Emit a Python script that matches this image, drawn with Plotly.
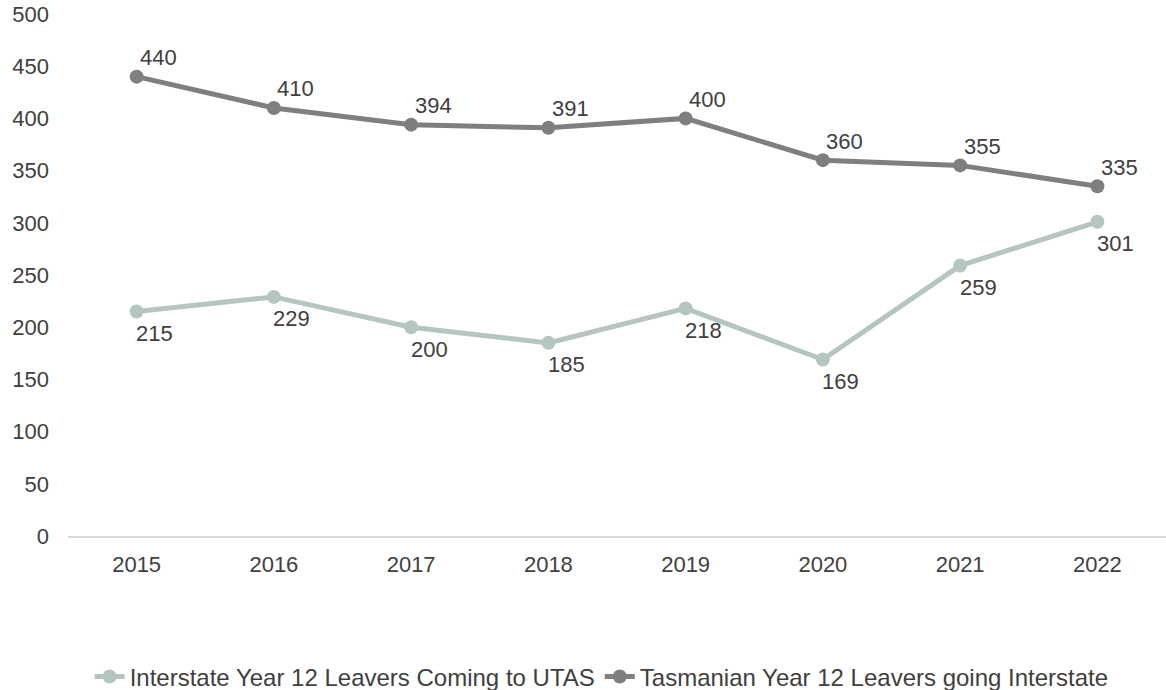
import plotly.graph_objects as go

years = ["2015", "2016", "2017", "2018", "2019", "2020", "2021", "2022"]
interstate_coming = [215, 229, 200, 185, 218, 169, 259, 301]
tasmanian_going = [440, 410, 394, 391, 400, 360, 355, 335]

name_coming = "Interstate Year 12 Leavers Coming to UTAS"
name_going = "Tasmanian Year 12 Leavers going Interstate"

font_family = "Liberation Sans, Arial, sans-serif"
text_color = "#404040"
col_coming = "#b4c6bd"
col_going = "#7f7f7f"

fig = go.Figure()
fig.add_trace(go.Scatter(
    x=years, y=interstate_coming, name=name_coming,
    mode="lines+markers",
    line=dict(color=col_coming, width=5),
    marker=dict(color=col_coming, size=14),
))
fig.add_trace(go.Scatter(
    x=years, y=tasmanian_going, name=name_going,
    mode="lines+markers",
    line=dict(color=col_going, width=5),
    marker=dict(color=col_going, size=14),
))

annotations = []
for i, v in enumerate(interstate_coming):
    annotations.append(dict(x=i, y=v, xref="x", yref="y", text=str(v),
                            showarrow=False, xanchor="center", yanchor="middle",
                            xshift=18, yshift=-22,
                            font=dict(size=22, color=text_color, family=font_family)))
for i, v in enumerate(tasmanian_going):
    annotations.append(dict(x=i, y=v, xref="x", yref="y", text=str(v),
                            showarrow=False, xanchor="center", yanchor="middle",
                            xshift=22, yshift=19,
                            font=dict(size=22, color=text_color, family=font_family)))

fig.update_layout(
    width=1166, height=690,
    margin=dict(l=68, r=0, t=14, b=154, autoexpand=False),
    plot_bgcolor="white", paper_bgcolor="white",
    font=dict(family=font_family, size=22, color=text_color),
    showlegend=True,
    annotations=annotations,
    legend=dict(orientation="h", xref="container", x=0.516, xanchor="center",
                yref="paper", y=-0.27, yanchor="middle",
                font=dict(size=24, color=text_color),
                traceorder="normal"),
    xaxis=dict(type="category", range=[-0.5, len(years) - 0.5],
               showgrid=False, showline=True,
               linecolor="#d9d9d9", linewidth=2, ticks="",
               tickfont=dict(size=22, color=text_color),
               ticklabelstandoff=8, automargin=False),
    yaxis=dict(range=[0, 500], tickmode="array",
               tickvals=list(range(0, 501, 50)),
               showgrid=False, zeroline=False, showline=False, ticks="",
               tickfont=dict(size=22, color=text_color),
               ticklabelstandoff=18, automargin=False),
)

fig.write_html("out.html", config={"displayModeBar": False},
               post_script="document.body.style.margin='0';")
